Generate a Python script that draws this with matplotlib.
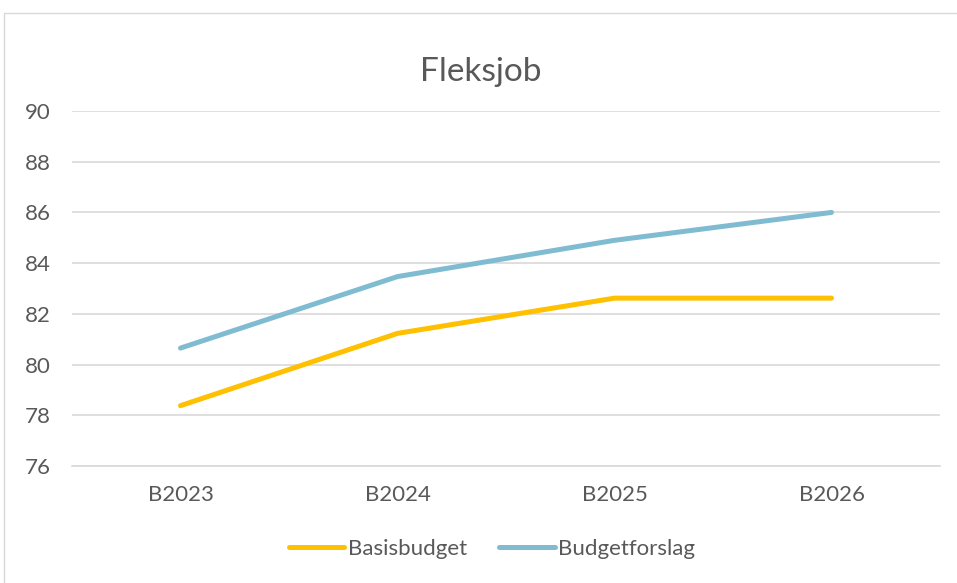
import matplotlib
matplotlib.use("Agg")
import matplotlib.pyplot as plt
from matplotlib.patches import Rectangle

categories = ["B2023", "B2024", "B2025", "B2026"]
basisbudget = [78.38, 81.23, 82.62, 82.62]
budgetforslag = [80.65, 83.47, 84.9, 86.0]
yticks = [76, 78, 80, 82, 84, 86, 88, 90]

plt.rcParams['font.family'] = ['Lato', 'DejaVu Sans']
txt = '#595959'

fig = plt.figure(figsize=(9.57, 5.83), dpi=100)
W, H = 957, 583
fig.patches.append(Rectangle((4 / W, -0.01), 1.0, 1 - 12.5 / H + 0.01, transform=fig.transFigure,
                             fill=False, edgecolor='#D9D9D9', linewidth=1.0))
ax = fig.add_axes([72 / W, 1 - 466 / H, 868 / W, 355 / H])

x = list(range(len(categories)))
ax.plot(x, basisbudget, color='#FFC000', lw=3.6, solid_capstyle='round', solid_joinstyle='round', label='Basisbudget')
ax.plot(x, budgetforslag, color='#80BCD1', lw=3.6, solid_capstyle='round', solid_joinstyle='round', label='Budgetforslag')

ax.set_xlim(-0.5, 3.5)
ax.set_ylim(76, 90)
ax.set_yticks(yticks)
ax.set_xticks(x)
ax.set_xticklabels(categories)
ax.grid(axis='y', color='#D9D9D9', lw=1.2)
ax.set_axisbelow(True)
for s in ['top', 'right', 'left']:
    ax.spines[s].set_visible(False)
ax.spines['bottom'].set_color('#D9D9D9')
ax.spines['bottom'].set_linewidth(1.2)
ax.tick_params(axis='both', length=0, colors=txt, labelsize=16)
ax.tick_params(axis='y', pad=15.5)
ax.tick_params(axis='x', pad=14)

fig.text(481 / W, 1 - 72 / H, "Fleksjob", ha='center', va='center', fontsize=24, color=txt)

leg = fig.legend(loc='center', bbox_to_anchor=(492 / W, 1 - 549 / H), ncol=2, frameon=False,
                 fontsize=16, handlelength=2.5, columnspacing=1.45, handletextpad=0.15)
for t in leg.get_texts():
    t.set_color(txt)

fig.savefig("out.png", dpi=100)
